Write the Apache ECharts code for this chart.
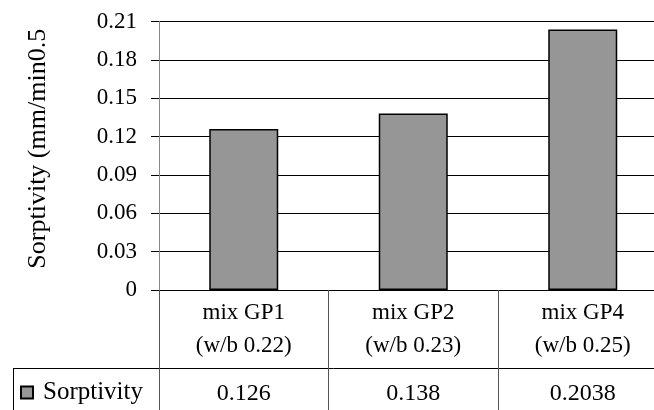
<!DOCTYPE html>
<html><head><meta charset="utf-8">
<script src="https://cdn.jsdelivr.net/npm/echarts@6/dist/echarts.min.js"></script>
<style>html,body{margin:0;padding:0;background:#fff}#c{width:654px;height:410px}</style>
</head><body><div id="c"></div>
<script>
const categories = ['mix GP1\n(w/b 0.22)', 'mix GP2\n(w/b 0.23)', 'mix GP4\n(w/b 0.25)'];
const seriesName = 'Sorptivity';
const values = [0.126, 0.138, 0.2038];
const yTicks = {min: 0, max: 0.21, interval: 0.03};
const FONT = '"Liberation Serif", "DejaVu Serif", serif';

const chart = echarts.init(document.getElementById('c'), null, {renderer: 'canvas'});
chart.setOption({
  animation: false,
  backgroundColor: '#fff',
  grid: {left: 159, top: 21.5, right: -13.5, bottom: 120, containLabel: false, outerBoundsMode: 'none'},
  legend: {
    data: [seriesName], left: 15, top: 375, icon: 'rect', itemWidth: 12, itemHeight: 12, itemGap: 6,
    textStyle: {fontFamily: FONT, fontSize: 25, color: '#000', padding: [0, 0, 0, 5]}
  },
  xAxis: [{
    type: 'category', data: categories, position: 'bottom',
    axisLine: {show: true, lineStyle: {color: '#000', width: 1}},
    axisTick: {show: true, length: 120, lineStyle: {color: '#555', width: 1}},
    axisLabel: {fontFamily: FONT, fontSize: 23, color: '#000', lineHeight: 33, margin: 6, interval: 0}
  }, {
    type: 'category', data: values.map(String), position: 'bottom',
    axisLine: {show: false}, axisTick: {show: false},
    axisLabel: {fontFamily: FONT, fontSize: 24, color: '#000', lineHeight: 24, margin: 92, interval: 0}
  }],
  yAxis: {
    type: 'value', min: yTicks.min, max: yTicks.max, interval: yTicks.interval,
    name: 'Sorptivity (mm/min0.5', nameLocation: 'middle', nameGap: 108, nameRotate: 90,
    nameTextStyle: {fontFamily: FONT, fontSize: 26, color: '#000', padding: [0, 0, 0, 14]},
    axisLine: {show: true, lineStyle: {color: '#888', width: 1}},
    axisTick: {show: true, length: 8, lineStyle: {color: '#000'}},
    axisLabel: {fontFamily: FONT, fontSize: 23, color: '#000', margin: 22, formatter: v => String(+v.toFixed(2))},
    splitLine: {show: true, lineStyle: {color: '#000', width: 1}}
  },
  series: [{
    name: seriesName, type: 'bar', data: values, xAxisIndex: 0, barWidth: 69,
    itemStyle: {color: '#969696', borderColor: '#000', borderWidth: 1.5}
  }],
  graphic: [
    {type: 'line', shape: {x1: 13, y1: 368.5, x2: 654, y2: 368.5}, style: {stroke: '#000', lineWidth: 1}},
    {type: 'line', shape: {x1: 13.5, y1: 368, x2: 13.5, y2: 410}, style: {stroke: '#000', lineWidth: 1}}
  ]
});
</script></body></html>
